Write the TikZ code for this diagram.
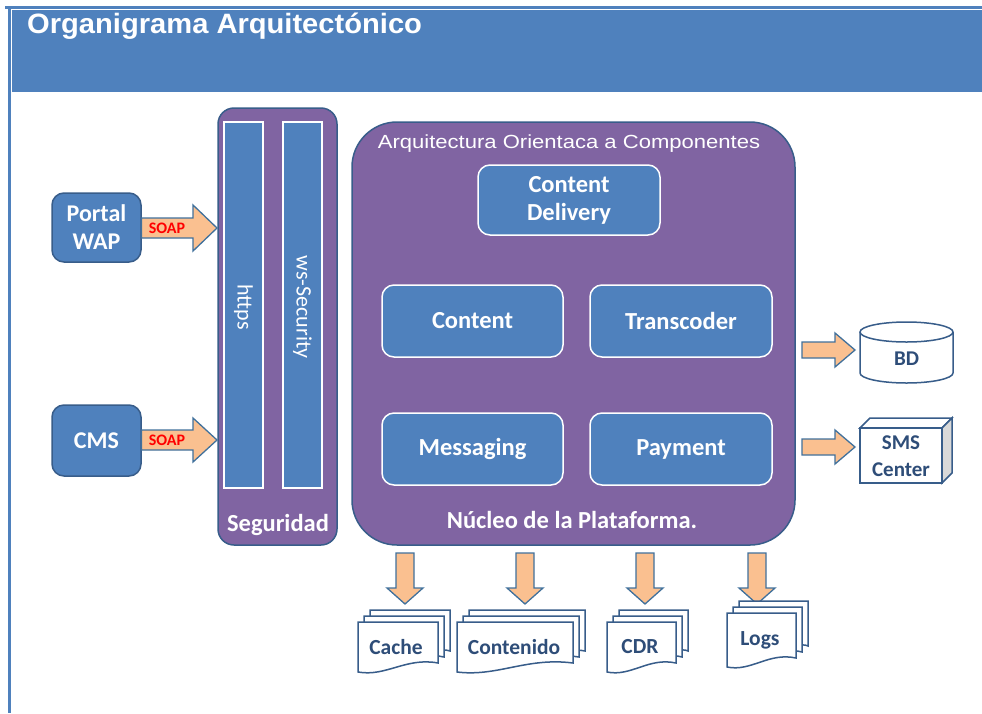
\documentclass[tikz,border=0pt]{standalone}
\usepackage{fontspec}
\setmainfont{Carlito}
\newfontfamily\arialf{Liberation Sans}
\usetikzlibrary{calc}
\definecolor{hdrblue}{HTML}{4F81BD}
\definecolor{boxblue}{HTML}{4F81BD}
\definecolor{darkbord}{HTML}{385D8A}
\definecolor{purp}{HTML}{8064A2}
\definecolor{arrfill}{HTML}{FAC090}
\definecolor{arrbord}{HTML}{41719C}
\definecolor{doctext}{HTML}{2E4D78}
\definecolor{sidegrey}{HTML}{D9D9D9}
\tikzset{
  purpbox/.style={fill=purp, draw=darkbord, line width=1.5pt, inner sep=0pt},
  innerbox/.style={fill=boxblue, draw=white, line width=1.5pt, rounded corners=12pt, inner sep=0pt,
     text=white, align=center, font=\bfseries\fontsize{24.5}{28}\selectfont},
  srcbox/.style={fill=boxblue, draw=darkbord, line width=1.5pt, rounded corners=12pt, inner sep=0pt,
     text=white, align=center, font=\bfseries\fontsize{24}{28}\selectfont},
  bar/.style={fill=boxblue, draw=white, line width=1.5pt, inner sep=0pt},
  bartext/.style={text=white, rotate=-90, font=\fontsize{22}{26}\selectfont},
  whitelabel/.style={text=white, font=\bfseries\fontsize{24.5}{28}\selectfont},
  blockarr/.style={fill=arrfill, draw=arrbord, line width=1.3pt, line join=miter},
  docst/.style={fill=white, draw=darkbord, line width=1.5pt},
  doclabel/.style={text=doctext, font=\bfseries\fontsize{21.5}{24}\selectfont},
  devlabel/.style={text=doctext, align=center, font=\bfseries\fontsize{21}{27}\selectfont},
  soaplabel/.style={text=red, font=\bfseries\fontsize{16}{18}\selectfont}
}
\newcommand\rblockarrow[6]{%
  \draw[blockarr] (#1,#4-#5) -- (#2,#4-#5) -- (#2,#4-#6) -- (#3,#4) -- (#2,#4+#6) -- (#2,#4+#5) -- (#1,#4+#5) -- cycle;}
\newcommand\dblockarrow[6]{%
  \draw[blockarr] (#4-#5,#1) -- (#4-#5,#2) -- (#4-#6,#2) -- (#4,#3) -- (#4+#6,#2) -- (#4+#5,#2) -- (#4+#5,#1) -- cycle;}
\newcommand\docpage[4]{%
  \draw[docst] (#1,#3) -- (#2,#3) -- (#2,#4-9)
    .. controls ({#1+0.6*(#2-#1)},#4-15) and ({#1+0.35*(#2-#1)},#4+5) .. (#1,#4) -- cycle;}
\newcommand\docstack[4]{%
  \docpage{#1+12}{#2+12}{#3-12}{#4-12}
  \docpage{#1+6}{#2+6}{#3-6}{#4-6}
  \docpage{#1}{#2}{#3}{#4}}
\begin{document}
\begin{tikzpicture}[x=1pt,y=-1pt]
\useasboundingbox (0,0) rectangle (982,713);
\fill[white] (0,0) rectangle (982,713);
% frame and header
\fill[hdrblue] (5,6) rectangle (982,8.5);
\fill[hdrblue] (8,6) rectangle (10.5,713);
\fill[hdrblue] (12,10) rectangle (982,92);
\node[anchor=base west, inner sep=0pt, text=white, xscale=1.04,
      font=\arialf\bfseries\fontsize{28}{32}\selectfont] (title) at (27,33) {Organigrama Arquitectónico};

% Seguridad
\node[purpbox, rounded corners=16pt, minimum width=119pt, minimum height=437pt] (seg) at (277.5,326.5) {};
\node[bar, minimum width=39pt, minimum height=366pt] (https) at (243.5,305) {};
\node[bar, minimum width=39pt, minimum height=366pt] (wss) at (302.5,305) {};
\node[bartext] (httpst) at (243.5,307) {https};
\node[bartext] (wsst) at (302.5,307) {ws-Security};
\node[whitelabel, anchor=base] (segt) at (278,531) {Seguridad};

% Core
\node[purpbox, rounded corners=45pt, minimum width=443pt, minimum height=423pt] (core) at (573.5,333.5) {};
\node[anchor=base, inner sep=0pt, text=white, xscale=1.16,
      font=\arialf\fontsize{19}{22}\selectfont] (arqt) at (569,148) {Arquitectura Orientaca a Componentes};
\node[innerbox, minimum width=182pt, minimum height=70pt] (cdel) at (569,200) {Content\\Delivery};
\node[innerbox, minimum width=181pt, minimum height=72pt] (cont) at (472.5,321) {Content};
\node[innerbox, minimum width=182pt, minimum height=72pt] (trans) at (681,321) {Transcoder};
\node[innerbox, minimum width=181pt, minimum height=72pt] (msg) at (472.5,449) {Messaging};
\node[innerbox, minimum width=182pt, minimum height=72pt] (pay) at (681,449) {Payment};
\node[whitelabel, anchor=base] (nucleo) at (572,528) {Núcleo de la Plataforma.};

% sources
\node[srcbox, minimum width=89pt, minimum height=69pt] (wap) at (96.5,227.5) {Portal\\WAP};
\node[srcbox, minimum width=89pt, minimum height=71pt] (cms) at (96.5,440.5) {CMS};
\rblockarrow{141.5}{193}{217}{228}{10}{23}
\node[soaplabel] (soap1) at (167,228) {SOAP};
\rblockarrow{141.5}{193}{217}{440}{10}{22}
\node[soaplabel] (soap2) at (167,440) {SOAP};

% right side
\rblockarrow{802}{835}{855}{350}{8}{17}
\rblockarrow{802}{835}{855}{447}{8}{17}
% BD cylinder
\draw[docst] (860,332) -- (860,373) arc[start angle=180, end angle=0, x radius=46.5, y radius=10] -- (953,332);
\draw[docst] (906.5,332) ellipse[x radius=46.5, y radius=10];
\node[devlabel] (bd) at (906.5,359) {BD};
% SMS center box
\draw[docst] (860,428) -- (870,418) -- (952,418) -- (942,428) -- cycle;
\draw[docst, fill=sidegrey] (942,428) -- (952,418) -- (952,473) -- (942,483) -- cycle;
\draw[docst] (860,428) rectangle (942,483);
\node[devlabel] (sms) at (901,456) {SMS\\Center};

% bottom arrows
\dblockarrow{553}{588}{604}{405}{9}{18}
\dblockarrow{553}{588}{604}{525}{9}{18}
\dblockarrow{553}{588}{604}{645}{9}{18}
\dblockarrow{553}{588}{604}{757}{9}{18}

% documents
\docstack{358}{438}{622}{672}
\node[doclabel] (cache) at (396,647) {Cache};
\docstack{457}{573}{622}{672}
\node[doclabel] (conten) at (514,647) {Contenido};
\docstack{607}{676}{622}{672}
\node[doclabel] (cdr) at (640,647) {CDR};
\docstack{727}{796}{613}{667}
\node[doclabel] (logs) at (760,640) {Logs};
\end{tikzpicture}
\end{document}
